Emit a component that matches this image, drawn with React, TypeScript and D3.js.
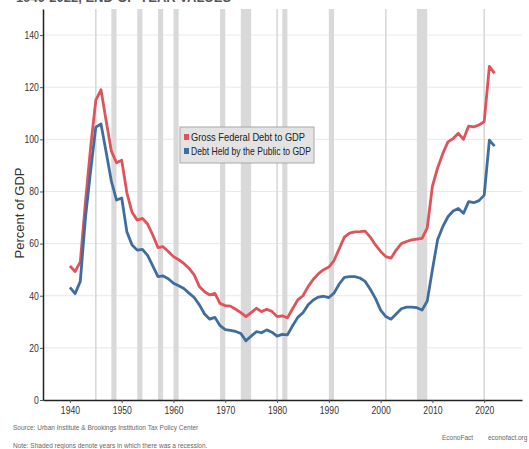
import React, { useEffect, useRef } from "react";
import * as d3 from "d3";

// end-of-year values, one per year starting in 1940
const firstYear = 1940;

const grossDebt = [
  51.4, 49.3, 53, 76, 97, 115, 119, 107, 95.5, 91,
  92, 79.5, 72, 69, 69.7, 67.5, 63.3, 58.5, 58.8, 57,
  55, 53.8, 52.4, 50.5, 48, 43.5, 41.5, 40.3, 40.9, 37,
  36.2, 36, 34.8, 33.5, 32, 33.5, 35.2, 33.9, 34.8, 34,
  32, 32.3, 31.5, 35, 38.4, 40, 43.5, 46.3, 48.5, 50,
  51, 53.5, 58, 62.5, 64, 64.5, 64.6, 64.8, 62.5, 59.5,
  57, 55, 54.4, 57.5, 60, 60.8, 61.4, 61.7, 62, 66,
  82, 89, 94.5, 99, 100.3, 102.3, 100, 105.1, 104.8, 105.5,
  106.8, 128, 125.3,
];

const publicDebt = [
  43.2, 40.8, 45.5, 70, 88, 104.7, 105.9, 95, 84, 76.7,
  77.5, 64.5, 59.5, 57.5, 57.8, 55.5, 51.5, 47.3, 47.6, 46.5,
  44.8, 43.8, 42.8, 41, 39.3, 36.5, 33, 31, 31.7, 28.5,
  27, 26.7, 26.3, 25.5, 22.7, 24.5, 26.2, 25.8, 26.9, 26,
  24.5, 25.2, 25, 28.5, 31.7, 33.5, 36.5, 38.4, 39.5, 39.8,
  39.3, 41, 44.5, 47, 47.3, 47.3, 46.8, 45.5, 42.5, 39,
  34.5, 32, 31, 33, 35, 35.6, 35.6, 35.4, 34.5, 38,
  50, 61.5, 66.5, 70.3, 72.5, 73.5, 71.6, 76.1, 75.7, 76.5,
  78.6, 99.7, 97.4,
];

const seriesNames = ["Gross Federal Debt to GDP", "Debt Held by the Public to GDP"];
const seriesColors = ["#e0535b", "#3f6e9e"];

// shaded recession years [start, end]
const recessions: [number, number][] = [
  [1945, 1945], [1948, 1949], [1953, 1954], [1957, 1958], [1960, 1961],
  [1969, 1970], [1973, 1975], [1980, 1980], [1981, 1982], [1990, 1991],
  [2001, 2001], [2007, 2009], [2020, 2020],
];

const yTicks = [0, 20, 40, 60, 80, 100, 120, 140];
const xTicks = [1940, 1950, 1960, 1970, 1980, 1990, 2000, 2010, 2020];

const font = "'Liberation Sans', Arial, sans-serif";

export default function App() {
  const ref = useRef<SVGSVGElement>(null);

  useEffect(() => {
    const svg = d3.select(ref.current);
    svg.selectAll("*").remove();

    const x = d3.scaleLinear().domain([1934.8, 2027.3]).range([43, 522]);
    const y = d3.scaleLinear().domain([0, 150]).range([400, 9]);

    // title, cut off at the very top as in the source image
    svg
      .append("text")
      .attr("x", 16)
      .attr("y", 2)
      .style("font-family", font)
      .style("font-size", "13px")
      .style("font-weight", "bold")
      .style("fill", "#555")
      .text("1940-2022, END-OF-YEAR VALUES");

    // gridlines
    svg
      .append("g")
      .selectAll("line")
      .data(yTicks.filter((d) => d > 0))
      .enter()
      .append("line")
      .attr("x1", 43)
      .attr("x2", 522)
      .attr("y1", (d) => y(d))
      .attr("y2", (d) => y(d))
      .style("stroke", "#e8e8e8")
      .style("stroke-width", 1);

    // recessions
    const rec = svg.append("g");
    rec
      .selectAll("rect")
      .data(recessions.filter((d) => d[1] > d[0]))
      .enter()
      .append("rect")
      .attr("x", (d) => x(d[0]))
      .attr("width", (d) => x(d[1]) - x(d[0]))
      .attr("y", y(150))
      .attr("height", y(0) - y(150))
      .style("fill", "#d9d9d9");
    rec
      .selectAll("line")
      .data(recessions.filter((d) => d[1] === d[0]))
      .enter()
      .append("line")
      .attr("x1", (d) => x(d[0]))
      .attr("x2", (d) => x(d[0]))
      .attr("y1", y(150))
      .attr("y2", y(0))
      .style("stroke", "#d6d6d6")
      .style("stroke-width", 1.5);

    // lines
    const line = d3
      .line<number>()
      .x((d, i) => x(firstYear + i))
      .y((d) => y(d));

    [grossDebt, publicDebt].forEach((vals, k) => {
      svg
        .append("path")
        .datum(vals)
        .attr("d", line)
        .style("fill", "none")
        .style("stroke", seriesColors[k])
        .style("stroke-width", 2.8)
        .style("stroke-linejoin", "round");
    });

    // axes
    const yAxis = svg
      .append("g")
      .attr("transform", "translate(43,0)")
      .call(d3.axisLeft(y).tickValues(yTicks).tickSize(3).tickSizeOuter(0).tickPadding(2));
    const xAxis = svg
      .append("g")
      .attr("transform", `translate(0,${y(0)})`)
      .call(
        d3
          .axisBottom(x)
          .tickValues(xTicks)
          .tickFormat(d3.format("d"))
          .tickSize(3)
          .tickSizeOuter(0)
          .tickPadding(4)
      );
    [yAxis, xAxis].forEach((a) => {
      a.select(".domain").style("stroke", "#222").style("stroke-width", 1.5);
      a.selectAll(".tick line").style("stroke", "#555");
      a.selectAll("text")
        .style("font-family", font)
        .style("font-size", "10.5px")
        .style("fill", "#333")
        .attr("transform", "scale(0.82,1)");
    });

    svg
      .append("text")
      .attr("transform", `translate(24,213) rotate(-90)`)
      .style("text-anchor", "middle")
      .style("font-family", font)
      .style("font-size", "13px")
      .style("fill", "#333")
      .text("Percent of GDP");

    // legend
    const lg = svg.append("g").attr("transform", "translate(180,127)");
    lg.append("rect")
      .attr("width", 134)
      .attr("height", 36)
      .style("fill", "#e3e3e3")
      .style("stroke", "#a8a8a8");
    const legendWidths = [114, 120];
    seriesNames.forEach((name, k) => {
      lg.append("rect")
        .attr("x", 4)
        .attr("y", 7 + k * 14)
        .attr("width", 5)
        .attr("height", 6)
        .style("fill", seriesColors[k]);
      lg.append("text")
        .attr("x", 11)
        .attr("y", 14 + k * 14)
        .attr("textLength", legendWidths[k])
        .attr("lengthAdjust", "spacingAndGlyphs")
        .style("font-family", font)
        .style("font-size", "11px")
        .style("fill", "#222")
        .text(name);
    });

    // footer notes
    const note = (t: string, px: number, py: number) =>
      svg
        .append("text")
        .attr("x", px)
        .attr("y", py)
        .style("font-family", font)
        .style("font-size", "6.5px")
        .style("fill", "#666")
        .text(t);
    note("Source: Urban Institute & Brookings Institution Tax Policy Center", 13, 430);
    note("Note: Shaded regions denote years in which there was a recession.", 13, 448);
    note("EconoFact", 442, 440);
    note("econofact.org", 488, 440);
  }, []);

  return (
    <svg
      ref={ref}
      width={529}
      height={449}
      style={{ position: "absolute", left: 0, top: 0, background: "#fff" }}
    />
  );
}
